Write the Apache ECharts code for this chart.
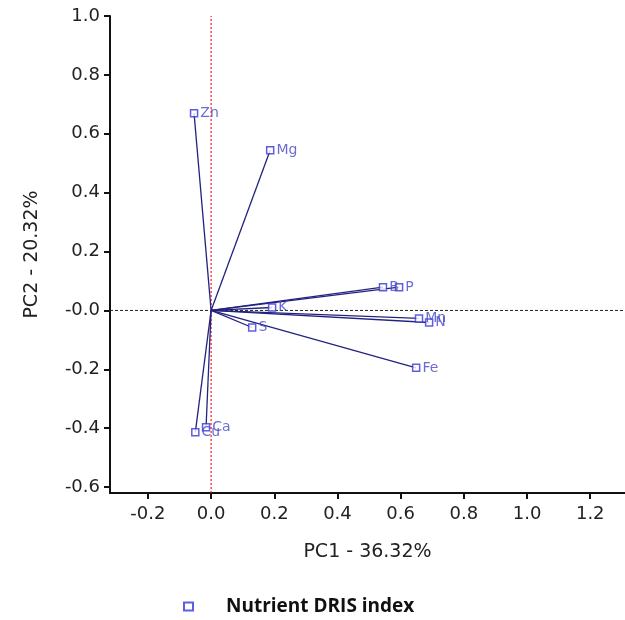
<!DOCTYPE html>
<html>
<head>
<meta charset="utf-8">
<script src="https://cdn.jsdelivr.net/npm/echarts@6/dist/echarts.min.js"></script>
<style>
body{margin:0;background:#fff;}
#main{width:625px;height:620px;}
</style>
</head>
<body>
<div id="main"></div>
<script>
// 营养元素名称和主成分载荷
var nutrients = ['Zn', 'Mg', 'B', 'P', 'K', 'S', 'Mn', 'N', 'Fe', 'Ca', 'Cu'];
var pc1 = [-0.054, 0.187, 0.544, 0.595, 0.193, 0.13, 0.658, 0.69, 0.649, -0.016, -0.05];
var pc2 = [0.67, 0.544, 0.079, 0.079, 0.01, -0.058, -0.027, -0.041, -0.195, -0.397, -0.414];
var xTicks = [-0.2, 0, 0.2, 0.4, 0.6, 0.8, 1.0, 1.2];
var yTicks = [-0.6, -0.4, -0.2, 0, 0.2, 0.4, 0.6, 0.8, 1.0];
var xRange = [-0.32, 1.31];
var yRange = [-0.62, 1.0];

var chart = echarts.init(document.getElementById('main'));

var points = nutrients.map(function (n, i) { return [pc1[i], pc2[i], n]; });

// 原点到各点的连线
var lineSeries = points.map(function (p) {
  return {
    type: 'line',
    data: [[0, 0], [p[0], p[1]]],
    symbol: 'none',
    silent: true,
    lineStyle: { color: '#23237e', width: 1.3 },
    z: 3
  };
});

// 零线
var zeroLines = [
  { type: 'line', data: [[xRange[0], 0], [xRange[1], 0]], symbol: 'none', silent: true,
    lineStyle: { color: '#222', type: [3, 2], width: 1 }, z: 1 },
  { type: 'line', data: [[0, yRange[0]], [0, yRange[1]]], symbol: 'none', silent: true,
    lineStyle: { color: '#ff1a1a', type: [2, 2], width: 1.2 }, z: 1 }
];

chart.setOption({
  animation: false,
  grid: { left: 110, right: 0, top: 16, bottom: 127 },
  legend: {
    data: [{ name: 'Nutrient DRIS index', icon: 'rect' }],
    left: 178, top: 592,
    itemWidth: 9, itemHeight: 8, itemGap: 10,
    textStyle: { fontFamily: 'Open Sans', fontWeight: 'bold', fontSize: 19, color: '#111', padding: [0, 0, 0, 28] }
  },
  xAxis: {
    type: 'value', min: xRange[0], max: xRange[1],
    name: 'PC1 - 36.32%', nameLocation: 'middle', nameGap: 50,
    nameTextStyle: { fontFamily: 'DejaVu Sans', fontSize: 19, color: '#222' },
    splitLine: { show: false },
    axisLine: { onZero: false, lineStyle: { color: '#111', width: 2 } },
    axisTick: { show: true, customValues: xTicks, length: 6, inside: false, lineStyle: { color: '#111', width: 2 } },
    axisLabel: {
      customValues: xTicks, fontFamily: 'DejaVu Sans', fontSize: 18, color: '#222', margin: 12,
      formatter: function (v) { return v.toFixed(1); }
    }
  },
  yAxis: {
    type: 'value', min: yRange[0], max: yRange[1],
    name: 'PC2 - 20.32%', nameLocation: 'middle', nameGap: 68, nameRotate: 90,
    nameTextStyle: { fontFamily: 'DejaVu Sans', fontSize: 19, color: '#222' },
    splitLine: { show: false },
    axisLine: { show: true, onZero: false, lineStyle: { color: '#111', width: 2 } },
    axisTick: { show: true, customValues: yTicks, length: 6, lineStyle: { color: '#111', width: 2 } },
    axisLabel: {
      customValues: yTicks, fontFamily: 'DejaVu Sans', fontSize: 18, color: '#222', margin: 10,
      formatter: function (v) { return v === 0 ? '-0.0' : v.toFixed(1); }
    }
  },
  series: zeroLines.concat(lineSeries).concat([{
    name: 'Nutrient DRIS index',
    type: 'scatter',
    data: points,
    symbol: 'rect',
    symbolSize: 7,
    itemStyle: { color: '#ffffff', borderColor: '#3636d8', borderWidth: 1.5 },
    label: {
      show: true, position: 'right', distance: 2,
      formatter: function (p) { return p.data[2]; },
      fontFamily: 'DejaVu Sans', fontSize: 14, color: '#4646c8'
    },
    z: 5
  }])
});
</script>
</body>
</html>
